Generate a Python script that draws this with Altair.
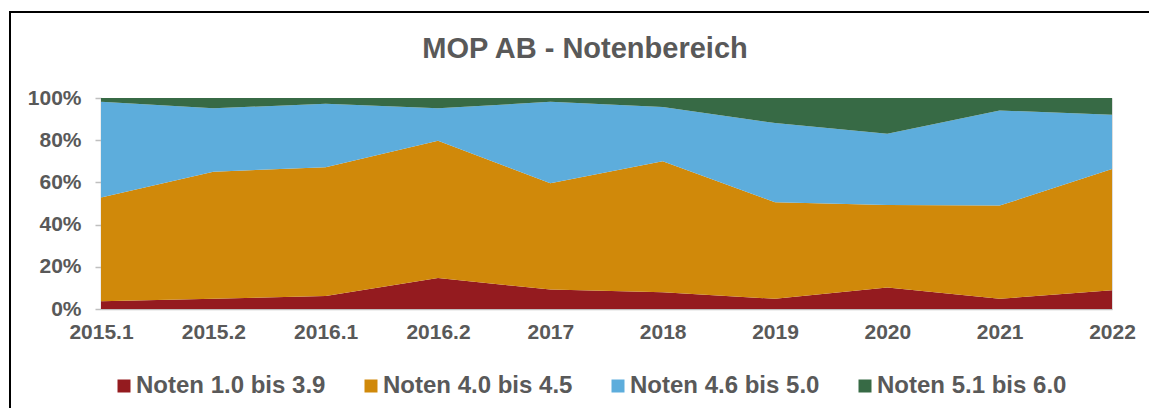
import altair as alt
import pandas as pd

periods = ["2015.1", "2015.2", "2016.1", "2016.2", "2017", "2018", "2019", "2020", "2021", "2022"]
series = ["Noten 1.0 bis 3.9", "Noten 4.0 bis 4.5", "Noten 4.6 bis 5.0", "Noten 5.1 bis 6.0"]
colors = ["#941B1F", "#D0890A", "#5DADDC", "#376A45"]

noten_1_0_3_9 = [3.7, 4.8, 6.2, 14.7, 9.2, 7.9, 4.8, 10.2, 4.8, 8.9]
noten_4_0_4_5 = [49.2, 60.3, 61.0, 65.0, 50.4, 62.1, 45.8, 39.1, 44.2, 57.4]
noten_4_6_5_0 = [45.3, 30.0, 30.1, 15.4, 38.6, 25.7, 37.5, 33.7, 45.1, 25.8]
noten_5_1_6_0 = [1.8, 4.9, 2.7, 4.9, 1.8, 4.3, 11.9, 17.0, 5.9, 7.9]

values = [noten_1_0_3_9, noten_4_0_4_5, noten_4_6_5_0, noten_5_1_6_0]
rows = []
for si, (name, vals) in enumerate(zip(series, values)):
    for p, v in zip(periods, vals):
        rows.append({"Periode": p, "Bereich": name, "Anteil": v, "idx": si})
df = pd.DataFrame(rows)

FONT = "Liberation Sans"
GREY = "#595959"

area = alt.Chart(df).mark_area().encode(
    x=alt.X("Periode:N", sort=periods, title=None,
            scale=alt.Scale(type="point", padding=0),
            axis=alt.Axis(labelAngle=0, labelFontSize=21, labelFontWeight="bold",
                          labelColor=GREY, labelFont=FONT, ticks=False, labelPadding=12,
                          domainColor="#BFBFBF", domainWidth=1.5, grid=False)),
    y=alt.Y("Anteil:Q", stack="normalize", title=None,
            scale=alt.Scale(domain=[0, 1]),
            axis=alt.Axis(format="%", values=[0, 0.2, 0.4, 0.6, 0.8, 1.0],
                          labelFontSize=21, labelFontWeight="bold", labelColor=GREY,
                          labelFont=FONT, tickSize=6, tickColor="#BFBFBF", tickWidth=1.5,
                          domainColor="#BFBFBF", domainWidth=1.5, labelPadding=14, grid=False)),
    color=alt.Color("Bereich:N", sort=series,
                    scale=alt.Scale(domain=series, range=colors),
                    legend=alt.Legend(title=None, orient="none", direction="horizontal",
                                      legendX=11, legendY=276, symbolType="square",
                                      symbolSize=169, symbolStrokeWidth=0,
                                      labelFontSize=24, labelFontWeight="bold",
                                      labelColor=GREY, labelFont=FONT, labelOffset=0,
                                      columnPadding=33, labelLimit=400)),
    order=alt.Order("idx:Q", sort="ascending"),
)

title_data = alt.Data(values=[{"t": "MOP AB - Notenbereich"}])
title_text = alt.Chart(title_data).mark_text(
    fontSize=29, fontWeight="bold", color=GREY, font=FONT,
    align="center", baseline="alphabetic").encode(
    text="t:N", x=alt.value(484), y=alt.value(-40))

border_data = alt.Data(values=[{"a": 1}])
border_left = alt.Chart(border_data).mark_rule(color="black", strokeWidth=2).encode(
    x=alt.value(-91), y=alt.value(-86), y2=alt.value(330))
border_top = alt.Chart(border_data).mark_rule(color="black", strokeWidth=2).encode(
    x=alt.value(-92), x2=alt.value(1060), y=alt.value(-86))

chart = alt.layer(area, title_text, border_left, border_top).properties(
    width=1011, height=211,
    autosize=alt.AutoSizeParams(type="none"),
    padding={"left": 93, "top": 90, "right": 37, "bottom": 99},
).configure_view(stroke=None).configure(background="white")

chart.save("out.html", embed_options={"renderer": "svg", "actions": False})
